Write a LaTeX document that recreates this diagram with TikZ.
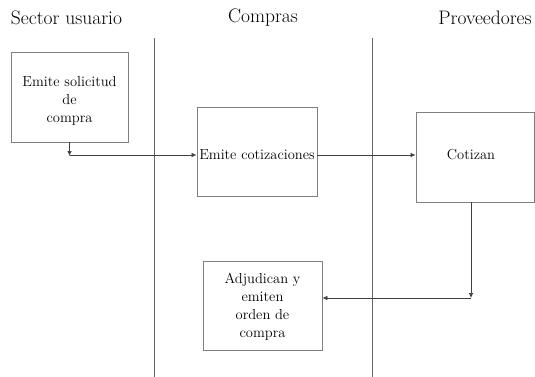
\documentclass[tikz,border=0pt]{standalone}
\usetikzlibrary{arrows.meta}
\begin{document}
\begin{tikzpicture}[x=1pt,y=-1pt,
  lane/.style={font=\fontsize{19.5}{23}\selectfont, inner sep=0pt},
  stepbox/.style={draw=black!50, line width=0.8pt, rectangle, inner sep=0pt},
  steptext/.style={inner sep=0pt, align=center, font=\fontsize{14.5}{18}\selectfont},
  flow/.style={draw=black!75, line width=0.7pt, -{Latex[length=5pt,width=4.5pt]}},
  divider/.style={draw=black!60, line width=0.8pt}]
\useasboundingbox (0,0) rectangle (535,377);
% lane titles
\node[lane] (t1) at (66.5,18) {Sector usuario};
\node[lane] (t2) at (263,18) {Compras};
\node[lane] (t3) at (485,18) {Proveedores};
% lane dividers
\coordinate (d1a) at (154,38); \coordinate (d1b) at (154,377);
\coordinate (d2a) at (372,38); \coordinate (d2b) at (372,377);
\draw[divider] (d1a) -- (d1b);
\draw[divider] (d2a) -- (d2b);
% process steps
\node[stepbox, minimum width=117pt, minimum height=90pt] (s) at (69.5,97) {};
\node[stepbox, minimum width=120pt, minimum height=89pt] (e) at (257,151.5) {};
\node[stepbox, minimum width=118pt, minimum height=90pt] (c) at (475,157) {};
\node[stepbox, minimum width=119pt, minimum height=89pt] (a) at (262.5,305.5) {};
% step captions
\node[steptext] (s-t) at ([yshift=-4pt]s.center) {Emite solicitud\\de\\compra};
\node[steptext] (e-t) at ([yshift=-3pt]e.center) {Emite cotizaciones};
\node[steptext] (c-t) at ([xshift=-4pt,yshift=2pt]c.center) {Cotizan};
\node[steptext] (a-t) at ([yshift=-1pt]a.center) {Adjudican y\\emiten\\orden de\\compra};
% connectors
\coordinate (k1) at (s.south |- 0,156);
\coordinate (k2) at (c.south |- 0,298);
\draw[flow] (s.south) -- (k1);
\draw[flow] (k1 |- 0,155) -- (e.west |- 0,155);
\draw[flow] (e.east |- 0,155) -- (c.west |- 0,155);
\draw[flow] ([xshift=-4pt]c.south) -- ([xshift=-4pt]k2);
\draw[flow] ([xshift=-4pt]k2) -- (a.east |- 0,298);
\end{tikzpicture}
\end{document}
